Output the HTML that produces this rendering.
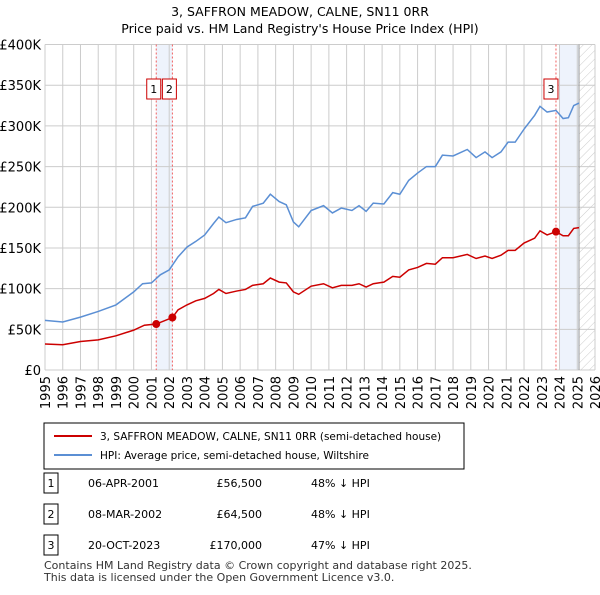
<!DOCTYPE html>
<html><head><meta charset="utf-8"><style>
body{margin:0;background:#fff;font-family:"Liberation Sans","DejaVu Sans",sans-serif;}
svg text{font-family:"DejaVu Sans","Liberation Sans",sans-serif;}
</style></head><body>
<svg id="c" width="600" height="590" xmlns="http://www.w3.org/2000/svg">
<defs><pattern id="h" width="6" height="6" patternUnits="userSpaceOnUse" patternTransform="rotate(45)"><line x1="0" y1="0" x2="0" y2="6" stroke="#ccc" stroke-width="1"/></pattern></defs>
<text x="300" y="16" text-anchor="middle" font-size="12.5">3, SAFFRON MEADOW, CALNE, SN11 0RR</text>
<text x="300" y="33" text-anchor="middle" font-size="12.5">Price paid vs. HM Land Registry's House Price Index (HPI)</text>
<g id="plot"></g>
<rect x="44" y="423" width="420" height="46" fill="#fff" stroke="#000"/>
<line x1="54" y1="436" x2="92" y2="436" stroke="#cc0000" stroke-width="2"/>
<text x="100" y="440" font-size="10.5">3, SAFFRON MEADOW, CALNE, SN11 0RR (semi-detached house)</text>
<line x1="54" y1="455" x2="92" y2="455" stroke="#5b8fd4" stroke-width="2"/>
<text x="100" y="459" font-size="10.5">HPI: Average price, semi-detached house, Wiltshire</text>
<g id="tbl" font-size="11"></g>
<text x="44" y="569" font-size="11" fill="#333">Contains HM Land Registry data © Crown copyright and database right 2025.</text>
<text x="44" y="581" font-size="11" fill="#333">This data is licensed under the Open Government Licence v3.0.</text>
</svg>
<script>
const hpiYears=[1995,1996,1997,1998,1999,2000,2000.5,2001,2001.5,2002,2002.5,2003,2003.5,2004,2004.5,2004.8,2005.2,2005.8,2006.3,2006.7,2007.3,2007.7,2008.2,2008.6,2009,2009.3,2010,2010.7,2011.2,2011.7,2012.3,2012.7,2013.1,2013.5,2014.1,2014.6,2015,2015.5,2016,2016.5,2017,2017.4,2018,2018.8,2019.3,2019.8,2020.2,2020.7,2021.1,2021.5,2022,2022.6,2022.9,2023.3,2023.8,2024.2,2024.5,2024.8,2025.1];
const hpiValues=[61,59,65,72,80,96,106,107,117,123,139,151,158,166,180,188,181,185,187,201,205,216,207,203,182,176,196,202,193,199,196,202,195,205,204,218,216,233,242,250,250,264,263,271,261,268,261,268,280,280,296,313,324,317,319,309,310,325,328];
const priceYears=[1995,1996,1997,1998,1999,2000,2000.6,2001.27,2002.18,2002.5,2003,2003.5,2004,2004.5,2004.8,2005.2,2005.8,2006.3,2006.7,2007.3,2007.7,2008.2,2008.6,2009,2009.3,2010,2010.7,2011.2,2011.7,2012.3,2012.7,2013.1,2013.5,2014.1,2014.6,2015,2015.5,2016,2016.5,2017,2017.4,2018,2018.8,2019.3,2019.8,2020.2,2020.7,2021.1,2021.5,2022,2022.6,2022.9,2023.3,2023.8,2024.2,2024.5,2024.8,2025.1];
const priceValues=[32,31,35,37,42,49,55,56.5,64.5,74,80,85,88,94,99,94,97,99,104,106,113,108,107,96,93,103,106,101,104,104,106,102,106,108,115,114,123,126,131,130,138,138,142,137,140,137,141,147,147,156,162,171,166,170,165,165,174,175];
const saleLabels=["1","2","3"];
const saleYears=[2001.27,2002.18,2023.8];
const saleValues=[56.5,64.5,170];
const saleDates=["06-APR-2001","08-MAR-2002","20-OCT-2023"];
const salePrices=["£56,500","£64,500","£170,000"];
const saleHpi=["48% ↓ HPI","48% ↓ HPI","47% ↓ HPI"];
const yTicks=[0,50,100,150,200,250,300,350,400];
const yTickLabels=["£0","£50K","£100K","£150K","£200K","£250K","£300K","£350K","£400K"];
const xTicks=[1995,1996,1997,1998,1999,2000,2001,2002,2003,2004,2005,2006,2007,2008,2009,2010,2011,2012,2013,2014,2015,2016,2017,2018,2019,2020,2021,2022,2023,2024,2025,2026];

const L=45,R=595,T=44.5,B=370;
const X=y=>L+(y-1995)*(R-L)/31;
const Y=v=>B-v*(B-T)/400;
const NS="http://www.w3.org/2000/svg";
const g=document.getElementById('plot');
function mk(tag,attrs,parent){const e=document.createElementNS(NS,tag);for(const k in attrs)e.setAttribute(k,attrs[k]);(parent||g).appendChild(e);return e;}
let e;
e=mk('rect',{x:X(2001.27),y:T,width:X(2002.18)-X(2001.27),height:B-T,fill:'#eef3fc'});


e=mk('rect',{x:X(2024),y:T,width:X(2025.1)-X(2024),height:B-T,fill:'#eef3fc'});


e=mk('rect',{x:X(2025.1),y:T,width:R-X(2025.1),height:B-T,fill:'url(#h)'});


yTicks.forEach((v,i)=>{
  e=mk('line',{x1:L,x2:R,y1:Y(v),y2:Y(v),stroke:'#ccc'});
  
  
  e=mk('text',{x:L-4,y:Y(v)+5,'text-anchor':'end','font-size':13});
  e.textContent=yTickLabels[i];
  
  
});
xTicks.forEach(t=>{
  e=mk('line',{x1:X(t),x2:X(t),y1:T,y2:B,stroke:'#ccc'});
  
  
  e=mk('text',{x:0,y:0,'text-anchor':'end','font-size':13,transform:`translate(${X(t)+5},${B+6}) rotate(-90)`});
  e.textContent=t;
  
  
});
e=mk('line',{x1:X(2025.1),x2:X(2025.1),y1:T,y2:B,stroke:'#999'});


saleYears.forEach((s,i)=>{
  e=mk('line',{x1:X(s),x2:X(s),y1:T,y2:B,stroke:'#f06060','stroke-dasharray':'2,2'});
  
  
});
e=mk('polyline',{points:hpiYears.map((y,i)=>X(y)+','+Y(hpiValues[i])).join(' '),fill:'none',stroke:'#5b8fd4','stroke-width':1.5});


e=mk('polyline',{points:priceYears.map((y,i)=>X(y)+','+Y(priceValues[i])).join(' '),fill:'none',stroke:'#cc0000','stroke-width':1.5});


const boxOff=[-9.5,-10,-12];
saleYears.forEach((s,i)=>{
  e=mk('circle',{cx:X(s),cy:Y(saleValues[i]),r:4,fill:'#cc0000'});
  
  
  const bx=X(s)+boxOff[i];
  e=mk('rect',{x:bx,y:79,width:14,height:20,fill:'#fff',stroke:'#cc0000'});
  
  
  e=mk('text',{x:bx+7,y:93,'text-anchor':'middle','font-size':11});
  e.textContent=saleLabels[i];
  
  
});
const tb=document.getElementById('tbl');
const rowY=[483,514,545];
saleLabels.forEach((l,i)=>{
  const y=rowY[i];
  e=mk('rect',{x:44,y:y-10,width:14,height:20,fill:'#fff',stroke:'#000'},tb);
  
  
  const cells=[[51,l,'middle'],[88,saleDates[i],'start'],[262,salePrices[i],'end'],[311,saleHpi[i],'start']];
  cells.forEach(c=>{
    e=mk('text',{x:c[0],y:y+4,'text-anchor':c[2]},tb);
    e.textContent=c[1];
    
    
  });
});
</script>
</body></html>
